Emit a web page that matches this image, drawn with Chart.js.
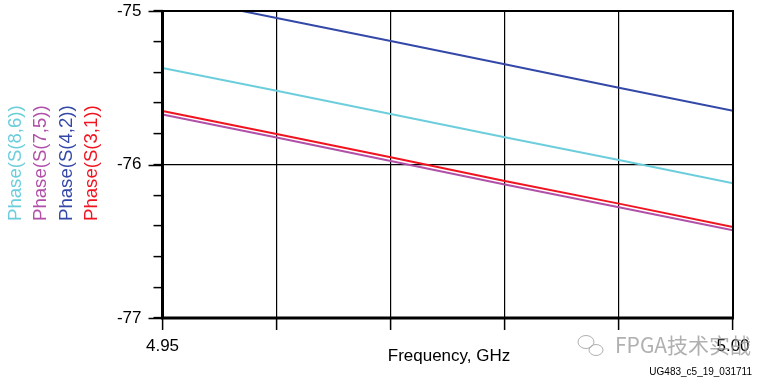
<!DOCTYPE html>
<html>
<head>
<meta charset="utf-8">
<script src="https://cdn.jsdelivr.net/npm/chart.js@4/dist/chart.umd.min.js"></script>
<style>
  html, body { margin: 0; padding: 0; background: #fff; }
  #wrap { width: 762px; height: 378px; position: relative; }
</style>
</head>
<body>
<div id="wrap"><canvas id="myChart"></canvas></div>
<script>
// frequency points, GHz
const freq = [4.95, 4.96, 4.97, 4.98, 4.99, 5.00];

// phase values (degrees)
const s86 = [-75.371, -75.519, -75.671, -75.823, -75.971, -76.123];
const s75 = [-75.674, -75.824, -75.977, -76.130, -76.279, -76.429];
const s42 = [-74.894, -75.046, -75.195, -75.347, -75.500, -75.650];
const s31 = [-75.651, -75.801, -75.953, -76.107, -76.255, -76.407];

const seriesNames = ['Phase(S(8,6))', 'Phase(S(7,5))', 'Phase(S(4,2))', 'Phase(S(3,1))'];
const seriesColors = ['#6ccedc', '#b050a8', '#3448a8', '#f01420'];
const seriesValues = [s86, s75, s42, s31];

const yMajor = [-75, -76, -77];
const xLabels = ['4.95', '5.00'];

const FONT = '"Liberation Sans", Arial, sans-serif';

function toPoints(vals) {
    return freq.map((f, i) => ({ x: f, y: vals[i] }));
}

// draw order: blue and cyan behind, red over purple
const order = [2, 0, 1, 3];
const datasets = order.map(i => ({
    label: seriesNames[i],
    data: toPoints(seriesValues[i]),
    borderColor: seriesColors[i],
    backgroundColor: seriesColors[i],
    borderWidth: 2,
    pointRadius: 0,
    tension: 0,
    clip: 0,
}));

const extras = {
    id: 'extras',
    afterDraw(chart) {
        const ctx = chart.ctx;
        const a = chart.chartArea;
        const y = chart.scales.y;
        ctx.save();
        // frame
        ctx.strokeStyle = '#000';
        ctx.lineWidth = 2;
        ctx.strokeRect(a.left, a.top, a.right - a.left, a.bottom - a.top);
        ctx.lineWidth = 3;
        ctx.beginPath();
        ctx.moveTo(a.left, a.top - 1);
        ctx.lineTo(a.left, a.bottom);
        ctx.lineTo(a.right + 1, a.bottom);
        ctx.stroke();
        // longer major ticks on y
        ctx.lineWidth = 1.5;
        yMajor.forEach(v => {
            const py = Math.round(y.getPixelForValue(v)) + 0.5;
            ctx.beginPath();
            ctx.moveTo(a.left - 14, py);
            ctx.lineTo(a.left, py);
            ctx.stroke();
        });
        // rotated legend
        ctx.font = '18.6px ' + FONT;
        ctx.textAlign = 'left';
        ctx.textBaseline = 'middle';
        seriesNames.forEach((name, i) => {
            ctx.save();
            ctx.translate(15.5 + i * 25.5, 221);
            ctx.rotate(-Math.PI / 2);
            ctx.fillStyle = seriesColors[i];
            ctx.fillText(name, 0, 0);
            ctx.restore();
        });
        // x axis title
        ctx.fillStyle = '#000';
        ctx.font = '17px ' + FONT;
        ctx.textAlign = 'center';
        ctx.textBaseline = 'alphabetic';
        ctx.fillText('Frequency, GHz', 449, 361);
        // figure id
        ctx.font = '10px ' + FONT;
        ctx.textAlign = 'right';
        ctx.fillText('UG483_c5_19_031711', 752, 375);
        // watermark
        ctx.fillStyle = 'rgba(150,150,150,0.75)';
        ctx.font = '21px "Noto Sans CJK SC", ' + FONT;
        ctx.textAlign = 'left';
        ctx.fillText('FPGA技术实战', 615, 353);
        ctx.strokeStyle = 'rgba(150,150,150,0.75)';
        ctx.lineWidth = 1;
        ctx.beginPath();
        ctx.ellipse(586, 342, 8, 6.5, 0, 0, Math.PI * 2);
        ctx.stroke();
        ctx.beginPath();
        ctx.ellipse(596, 350, 7, 5.5, 0, 0, Math.PI * 2);
        ctx.stroke();
        ctx.restore();
    }
};

const config = {
    type: 'line',
    data: { datasets: datasets },
    options: {
        responsive: false,
        animation: false,
        layout: { padding: { top: 11, right: 29, left: 0, bottom: 0 } },
        plugins: {
            legend: { display: false },
            tooltip: { enabled: false },
        },
        scales: {
            x: {
                type: 'linear',
                min: 4.95,
                max: 5.00,
                afterFit(scale) {
                    scale.height = 60;
                    scale.paddingLeft = 0;
                    scale.paddingRight = 0;
                },
                afterBuildTicks(scale) {
                    scale.ticks = freq.map(v => ({ value: v }));
                },
                grid: {
                    color: '#000',
                    lineWidth: 1.2,
                    tickLength: 12,
                    tickColor: '#000',
                    tickWidth: 1.5,
                },
                border: { display: false },
                ticks: {
                    padding: 6,
                    maxRotation: 0,
                    autoSkip: false,
                    color: '#000',
                    font: { size: 17, family: FONT },
                    callback(v) {
                        const s = Number(v).toFixed(2);
                        return xLabels.includes(s) ? s : '';
                    },
                },
            },
            y: {
                min: -77,
                max: -75,
                afterFit(scale) {
                    scale.width = 162.5;
                    scale.paddingTop = 0;
                    scale.paddingBottom = 0;
                },
                afterBuildTicks(scale) {
                    const t = [];
                    for (let k = 0; k <= 10; k++) t.push({ value: -77 + k * 0.2 });
                    scale.ticks = t;
                },
                grid: {
                    color(c) {
                        return Math.abs(c.tick.value + 76) < 1e-6 ? '#000' : 'rgba(0,0,0,0)';
                    },
                    lineWidth: 1.2,
                    tickLength: 9,
                    tickColor: '#000',
                    tickWidth: 1.5,
                },
                border: { display: false },
                ticks: {
                    padding: 12,
                    autoSkip: false,
                    color: '#000',
                    font: { size: 17, family: FONT },
                    callback(v) {
                        const r = Math.round(v);
                        return Math.abs(v - r) < 1e-6 && yMajor.includes(r) ? String(r) : '';
                    },
                },
            },
        },
    },
    plugins: [extras],
};

const canvas = document.getElementById('myChart');
canvas.width = 762;
canvas.height = 378;
const myChart = new Chart(canvas, config);
</script>
</body>
</html>
